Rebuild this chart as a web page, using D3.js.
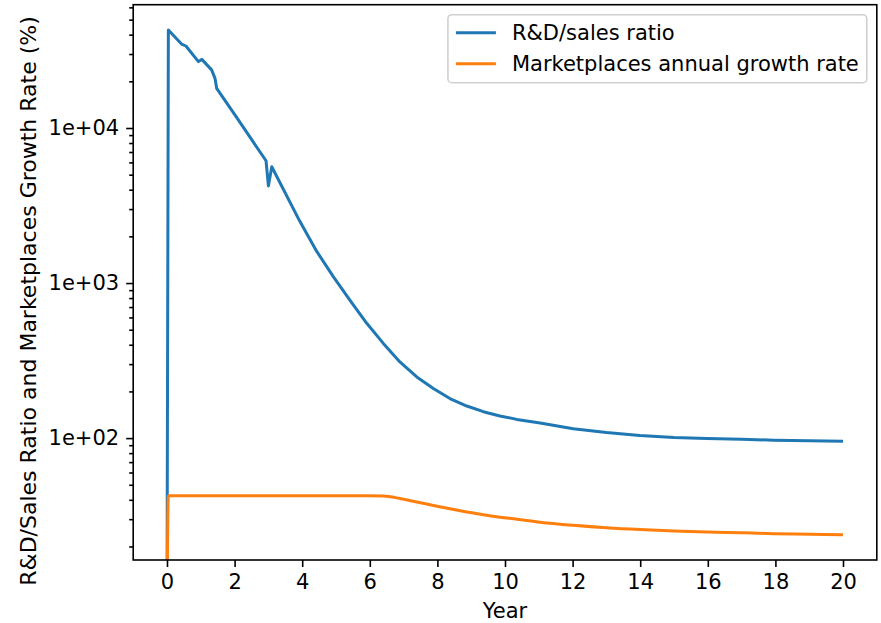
<!DOCTYPE html>
<html>
<head>
<meta charset="utf-8">
<script src="https://cdn.jsdelivr.net/npm/d3@7"></script>
<style>
  html, body { margin: 0; padding: 0; background: #ffffff; }
  svg { display: block; font-family: "DejaVu Sans", sans-serif; }
</style>
</head>
<body>
<svg id="chart" width="881" height="623"></svg>
<script>
// ---- Data ----
const years = [0, 0.04, 0.43, 0.56, 0.93, 1.03, 1.32, 1.42, 1.47, 2.06, 2.46, 2.93, 3.0, 3.1,
  3.93, 4.43, 4.92, 5.41, 5.91, 6.40, 6.89, 7.39, 7.88, 8.37, 8.87, 9.36, 9.85, 10.35, 11.04,
  12.02, 13.0, 13.99, 15.0, 15.97, 17.0, 17.94, 19.0, 20.0];
const rdSalesRatio = [0, 42900, 34800, 33800, 26800, 27700, 23700, 20900, 18000, 11700, 8690,
  6150, 4230, 5620, 2500, 1600, 1100, 776, 550, 408, 310, 248, 209, 180, 161, 148, 139, 132,
  125, 115, 108.5, 104, 101, 99.5, 98.2, 97, 96.2, 95.5];
const marketGrowth = [0, 42.5, 42.5, 42.5, 42.5, 42.5, 42.5, 42.5, 42.5, 42.5, 42.5, 42.5,
  42.5, 42.5, 42.5, 42.5, 42.5, 42.5, 42.5, 42.3, 40.8, 38.7, 36.8, 35.0, 33.4, 32.0, 30.9,
  30.0, 28.7, 27.4, 26.4, 25.7, 25.2, 24.8, 24.5, 24.2, 24.0, 23.8];
const seriesNames = ["R&D/sales ratio", "Marketplaces annual growth rate"];
const seriesColors = ["#1f77b4", "#ff7f0e"];
const xTicks = [0, 2, 4, 6, 8, 10, 12, 14, 16, 18, 20];
const yTicks = [100, 1000, 10000];
const xLabel = "Year";
const yLabel = "R&D/Sales Ratio and Marketplaces Growth Rate (%)";

// ---- Layout ----
const W = 881, H = 623;
const m = { left: 133.2, right: W - 876.8, top: 4.7, bottom: H - 560 };
const FS = 21;

const svg = d3.select("#chart");
svg.append("rect").attr("width", W).attr("height", H).attr("fill", "#fff");

// x domain with matplotlib-like 5% margins
const xExt = d3.extent(years);
const xPad = (xExt[1] - xExt[0]) * 0.05;
const x = d3.scaleLinear().domain([xExt[0] - xPad, xExt[1] + xPad]).range([m.left, W - m.right]);

// y log domain with 5% margins in log space over positive values
const pos = rdSalesRatio.concat(marketGrowth).filter(v => v > 0);
const lMin = Math.log10(d3.min(pos)), lMax = Math.log10(d3.max(pos));
const lPad = (lMax - lMin) * 0.05;
const y = d3.scaleLog().domain([Math.pow(10, lMin - lPad), Math.pow(10, lMax + lPad)])
  .range([H - m.bottom, m.top]);

svg.append("clipPath").attr("id", "clip").append("rect")
  .attr("x", m.left).attr("y", m.top)
  .attr("width", W - m.left - m.right).attr("height", H - m.top - m.bottom);

const yy = v => v > 0 ? y(v) : y.range()[0] + 50;
const curves = [d3.curveLinear, d3.curveMonotoneX];

const g = svg.append("g").attr("clip-path", "url(#clip)");
[rdSalesRatio, marketGrowth].forEach((s, k) => {
  const line = d3.line().x((d, i) => x(years[i])).y(d => yy(d)).curve(curves[k]);
  g.append("path").datum(s).attr("d", line)
    .attr("fill", "none").attr("stroke", seriesColors[k])
    .attr("stroke-width", 3).attr("stroke-linejoin", "round").attr("stroke-linecap", "butt");
});

// ---- Axes ----
const xAxis = d3.axisBottom(x).tickValues(xTicks).tickFormat(d3.format("d"))
  .tickSizeInner(7).tickSizeOuter(0).tickPadding(7);
const gx = svg.append("g").attr("transform", `translate(0,${H - m.bottom})`).call(xAxis);

const yFmt = d => "1e+" + String(Math.round(Math.log10(d))).padStart(2, "0");
const yAxis = d3.axisLeft(y).tickValues(yTicks).tickFormat(yFmt)
  .tickSizeInner(7).tickSizeOuter(0).tickPadding(7);
const gy = svg.append("g").attr("transform", `translate(${m.left},0)`).call(yAxis);

const minorTicks = y.ticks().filter(t => yTicks.indexOf(t) < 0);
const yMinor = d3.axisLeft(y).tickValues(minorTicks).tickFormat("").tickSizeInner(4).tickSizeOuter(0);
const gym = svg.append("g").attr("transform", `translate(${m.left},0)`).call(yMinor);

[gx, gy, gym].forEach(a => {
  a.select(".domain").remove();
  a.selectAll(".tick line").attr("stroke", "#000").attr("stroke-width", 1.6);
  a.selectAll(".tick text").attr("fill", "#000").style("font-size", FS + "px")
    .style("font-family", "DejaVu Sans");
});

// Frame (spines)
svg.append("rect").attr("x", m.left).attr("y", m.top)
  .attr("width", W - m.left - m.right).attr("height", H - m.top - m.bottom)
  .attr("fill", "none").attr("stroke", "#000").attr("stroke-width", 1.6);

// Axis labels
svg.append("text").attr("x", (m.left + W - m.right) / 2).attr("y", 618)
  .attr("text-anchor", "middle").style("font-size", FS + "px").text(xLabel);
svg.append("text")
  .attr("transform", `translate(36,301) rotate(-90)`)
  .attr("text-anchor", "middle").style("font-size", "22px").text(yLabel);

// ---- Legend ----
const lg = svg.append("g");
const lgRight = W - m.right - 10, lgTop = m.top + 10;
const rowH = 31;
const texts = [];
seriesNames.forEach((n, i) => {
  const cy = lgTop + 18 + i * rowH;
  const t = lg.append("text").attr("x", 0).attr("y", cy).attr("dy", "0.35em")
    .style("font-size", FS + "px").text(n);
  texts.push(t);
});
const maxW = d3.max(texts, t => t.node().getComputedTextLength());
const boxW = 8 + 40 + 16 + maxW + 8;
const boxX = lgRight - boxW;
lg.insert("rect", ":first-child").attr("x", boxX).attr("y", lgTop)
  .attr("width", boxW).attr("height", rowH * 2 + 6).attr("rx", 4)
  .attr("fill", "#fff").attr("fill-opacity", 0.8).attr("stroke", "#d0d0d0").attr("stroke-width", 1.6);
seriesNames.forEach((n, i) => {
  const cy = lgTop + 18 + i * rowH;
  lg.append("line").attr("x1", boxX + 8).attr("x2", boxX + 48).attr("y1", cy).attr("y2", cy)
    .attr("stroke", seriesColors[i]).attr("stroke-width", 3);
  texts[i].attr("x", boxX + 64);
});
</script>
</body>
</html>
